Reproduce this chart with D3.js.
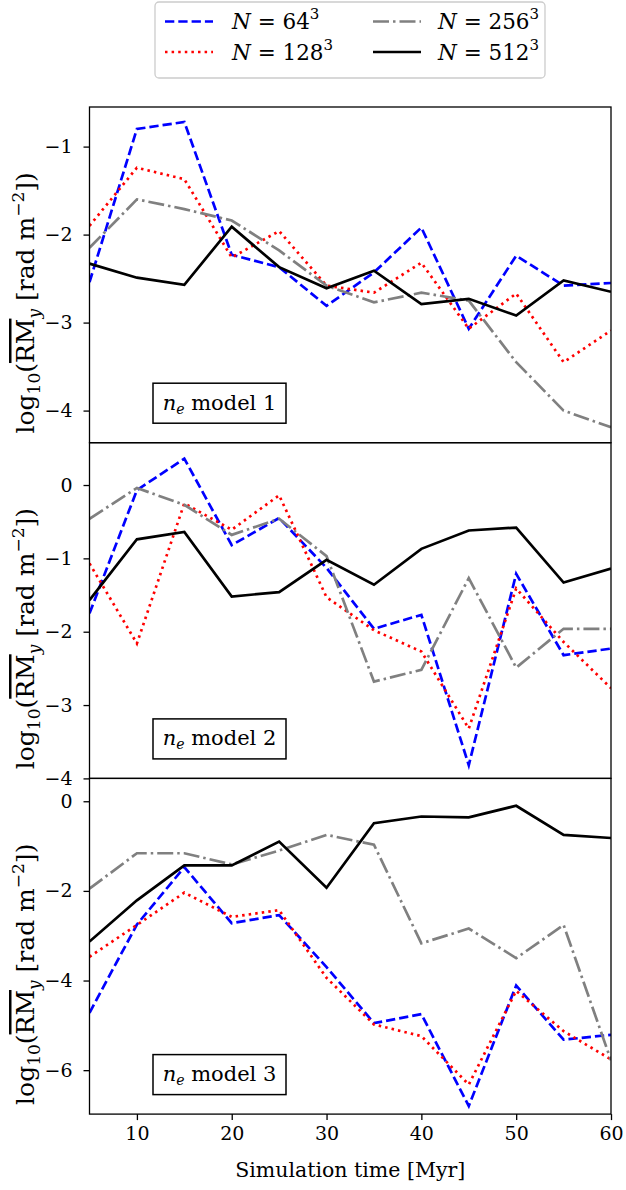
<!DOCTYPE html>
<html>
<head>
<meta charset="utf-8">
<script src="https://cdn.jsdelivr.net/npm/d3@7"></script>
<style>
  body { margin: 0; background: #fff; }
  svg text { font-family: "DejaVu Serif", serif; fill: #000; }
</style>
</head>
<body>
<div id="chart"></div>
<script>
// simulation times (Myr)
const times = [5, 10, 15, 20, 25, 30, 35, 40, 45, 50, 55, 60]
const xTicks = [10, 20, 30, 40, 50, 60]

// n_e model 1
const m1_64 = [-2.54, -0.80, -0.72, -2.23, -2.37, -2.81, -2.43, -1.92, -3.07, -2.24, -2.58, -2.55]
const m1_128 = [-1.90, -1.24, -1.37, -2.26, -1.96, -2.58, -2.66, -2.32, -3.07, -2.67, -3.45, -3.09]
const m1_256 = [-2.15, -1.60, -1.71, -1.84, -2.18, -2.58, -2.77, -2.66, -2.75, -3.45, -4.00, -4.19]
const m1_512 = [-2.33, -2.49, -2.57, -1.91, -2.37, -2.61, -2.41, -2.79, -2.73, -2.92, -2.52, -2.65]

// n_e model 2
const m2_64 = [-1.75, -0.07, 0.36, -0.82, -0.45, -1.13, -1.96, -1.77, -3.82, -1.21, -2.32, -2.23]
const m2_128 = [-1.07, -2.16, -0.25, -0.61, -0.14, -1.53, -1.98, -2.27, -3.32, -1.41, -2.14, -2.77]
const m2_256 = [-0.46, -0.04, -0.27, -0.68, -0.46, -0.97, -2.68, -2.52, -1.27, -2.49, -1.96, -1.96]
const m2_512 = [-1.57, -0.74, -0.64, -1.52, -1.46, -1.02, -1.36, -0.87, -0.62, -0.58, -1.33, -1.14]

// n_e model 3
const m3_64 = [-4.72, -2.75, -1.47, -2.72, -2.54, -3.70, -4.95, -4.75, -6.80, -4.11, -5.32, -5.21]
const m3_128 = [-3.47, -2.76, -2.04, -2.58, -2.43, -3.94, -4.98, -5.24, -6.32, -4.23, -5.13, -5.76]
const m3_256 = [-1.95, -1.16, -1.16, -1.41, -1.10, -0.75, -0.97, -3.17, -2.84, -3.50, -2.76, -5.78]
const m3_512 = [-3.13, -2.21, -1.43, -1.43, -0.90, -1.93, -0.49, -0.34, -0.36, -0.10, -0.75, -0.82]

const resolutions = ['64', '128', '256', '512']
const modelNames = ['1', '2', '3']
const panelSeries = [
  [m1_64, m1_128, m1_256, m1_512],
  [m2_64, m2_128, m2_256, m2_512],
  [m3_64, m3_128, m3_256, m3_512]
]
const yDomains = [[-4.365, -0.55], [-4.0, 0.577], [-6.98, 0.51]]
const yTicks = [[-4, -3, -2, -1], [-4, -3, -2, -1, 0], [-6, -4, -2, 0]]

const styles = [
  { color: '#0000ff', dash: '9.3,4' },
  { color: '#ff0000', dash: '2.5,4.1' },
  { color: '#808080', dash: '16,4,2.5,4' },
  { color: '#000000', dash: null }
]

const W = 626, H = 1190
const plotLeft = 89.5, plotRight = 611
const plotTop = 107, panelH = 335.7
const lw = 2.7
const fs = 19

const svg = d3.select('#chart').append('svg')
  .attr('width', W)
  .attr('height', H)

const defs = svg.append('defs')
const x = d3.scaleLinear().domain([5, 60]).range([plotLeft, plotRight])

const fmt = d => (d < 0 ? '\u2212' + Math.abs(d) : '' + d)

panelSeries.forEach((series, p) => {
  const y0 = plotTop + p * panelH
  const y1 = y0 + panelH
  const y = d3.scaleLinear().domain(yDomains[p]).range([y1, y0])
  const g = svg.append('g').attr('class', 'panel p' + p)

  const clipId = 'clip' + p
  defs.append('clipPath').attr('id', clipId)
    .append('rect')
    .attr('x', plotLeft).attr('y', y0)
    .attr('width', plotRight - plotLeft).attr('height', panelH)

  const line = d3.line()
    .x((d, i) => x(times[i]))
    .y(d => y(d))

  series.forEach((vals, s) => {
    g.append('path')
      .datum(vals)
      .attr('clip-path', 'url(#' + clipId + ')')
      .attr('d', line)
      .attr('fill', 'none')
      .attr('stroke', styles[s].color)
      .attr('stroke-width', lw)
      .attr('stroke-dasharray', styles[s].dash)
      .attr('stroke-linejoin', 'miter')
  })

  // y axis
  const yAxis = d3.axisLeft(y)
    .tickValues(yTicks[p])
    .tickFormat(fmt)
    .tickSize(6)
    .tickPadding(11)
  const ya = g.append('g')
    .attr('transform', 'translate(' + plotLeft + ',0)')
    .call(yAxis)
  ya.select('.domain').remove()
  ya.selectAll('.tick line').attr('stroke', '#000').attr('stroke-width', 1.3)
  ya.selectAll('.tick text').attr('font-size', fs)

  // frame
  g.append('rect')
    .attr('x', plotLeft).attr('y', y0)
    .attr('width', plotRight - plotLeft).attr('height', panelH)
    .attr('fill', 'none')
    .attr('stroke', '#000')
    .attr('stroke-width', 1.3)

  // y label
  const cy = (y0 + y1) / 2 + 28
  const lab = g.append('text')
    .attr('transform', 'translate(34,' + cy + ') rotate(-90)')
    .attr('text-anchor', 'middle')
    .attr('font-size', 25)
  lab.append('tspan').text('log')
  lab.append('tspan').attr('font-size', 17).attr('dy', 6).text('10')
  lab.append('tspan').attr('dy', -6).text('(')
  lab.append('tspan').attr('text-decoration', 'overline').text('RM')
  lab.append('tspan').attr('font-size', 17).attr('dy', 6).attr('font-style', 'italic').text('y')
  lab.append('tspan').attr('dy', -6).text(' [rad m')
  lab.append('tspan').attr('font-size', 17).attr('dy', -10).text('\u22122')
  lab.append('tspan').attr('dy', 10).text('])')

  // model box
  const bx = plotLeft + 130
  g.append('rect')
    .attr('x', bx - 66.5).attr('y', y1 - 59.5)
    .attr('width', 133).attr('height', 40)
    .attr('fill', '#fff')
    .attr('stroke', '#000')
    .attr('stroke-width', 1.5)
  const tb = g.append('text')
    .attr('x', bx).attr('y', y1 - 33)
    .attr('text-anchor', 'middle')
    .attr('font-size', 21)
  tb.append('tspan').attr('font-style', 'italic').text('n')
  tb.append('tspan').attr('font-style', 'italic').attr('font-size', 14).attr('dy', 4).text('e')
  tb.append('tspan').attr('dy', -4).text(' model ' + modelNames[p])

  if (p === 2) {
    const xa = g.append('g')
      .attr('transform', 'translate(0,' + y1 + ')')
      .call(d3.axisBottom(x).tickValues(xTicks).tickSize(6).tickPadding(6))
    xa.select('.domain').remove()
    xa.selectAll('.tick line').attr('stroke', '#000').attr('stroke-width', 1.3)
    xa.selectAll('.tick text').attr('font-size', fs)
    g.append('text')
      .attr('x', (plotLeft + plotRight) / 2)
      .attr('y', 1177)
      .attr('text-anchor', 'middle')
      .attr('font-size', 20.5)
      .text('Simulation time [Myr]')
  }
})

// legend
const leg = svg.append('g').attr('class', 'legend')
leg.append('rect')
  .attr('x', 155).attr('y', 2)
  .attr('width', 390).attr('height', 76)
  .attr('rx', 4)
  .attr('fill', '#fff')
  .attr('stroke', '#cccccc')
  .attr('stroke-width', 1.3)

const legPos = [
  { lx: 165, tx: 232, y: 21.5 },
  { lx: 165, tx: 232, y: 52 },
  { lx: 373, tx: 438, y: 21.5 },
  { lx: 373, tx: 438, y: 52 }
]
resolutions.forEach((r, s) => {
  const pos = legPos[s]
  leg.append('line')
    .attr('x1', pos.lx).attr('x2', pos.lx + 48)
    .attr('y1', pos.y).attr('y2', pos.y)
    .attr('stroke', styles[s].color)
    .attr('stroke-width', lw)
    .attr('stroke-dasharray', styles[s].dash)
  const t = leg.append('text')
    .attr('x', pos.tx).attr('y', pos.y + 7.5)
    .attr('font-size', 21.5)
  t.append('tspan').attr('font-style', 'italic').text('N')
  t.append('tspan').text(' = ' + r)
  t.append('tspan').attr('font-size', 15).attr('dy', -10).text('3')
})
</script>
</body>
</html>
